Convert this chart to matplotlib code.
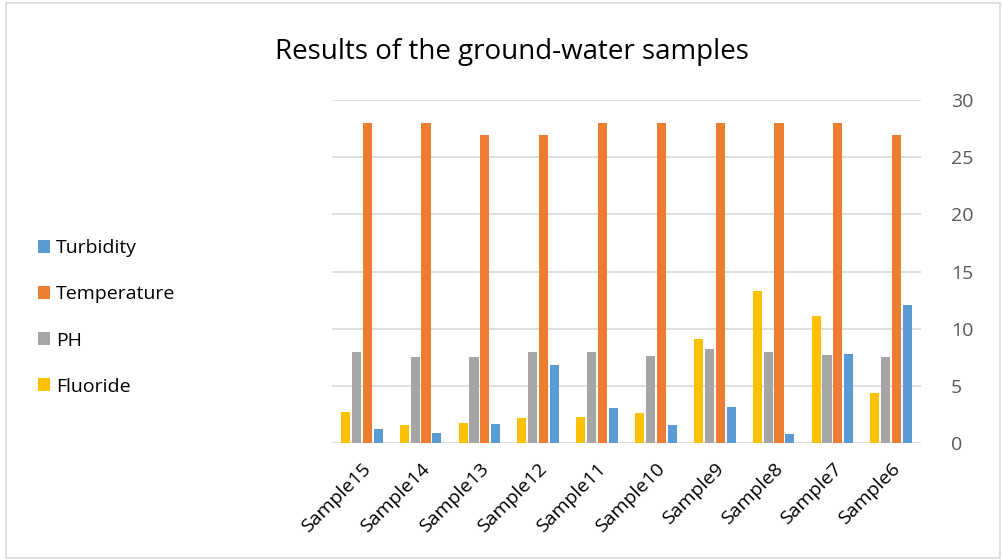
import numpy as np
import matplotlib.pyplot as plt
from matplotlib.patches import Rectangle

samples = ["Sample15", "Sample14", "Sample13", "Sample12", "Sample11",
           "Sample10", "Sample9", "Sample8", "Sample7", "Sample6"]
fluoride = [2.7, 1.6, 1.75, 2.2, 2.25, 2.6, 9.07, 13.28, 11.09, 4.36]
ph = [7.93, 7.52, 7.52, 7.93, 7.93, 7.58, 8.22, 7.96, 7.69, 7.52]
temperature = [28, 28, 27, 27, 28, 28, 28, 28, 28, 27]
turbidity = [1.23, 0.91, 1.7, 6.79, 3.04, 1.61, 3.16, 0.76, 7.78, 12.05]

series = [("Fluoride", fluoride, "#FFC000"),
          ("PH", ph, "#A5A5A5"),
          ("Temperature", temperature, "#ED7D31"),
          ("Turbidity", turbidity, "#5B9BD5")]

plt.rcParams['font.family'] = ['Open Sans', 'DejaVu Sans']

fig = plt.figure(figsize=(10.04, 5.6), dpi=100)
ax = fig.add_axes([0.331, 0.209, 0.586, 0.612])

x = np.arange(len(samples))
step = 0.185
width = 0.155
handles = {}
for i, (name, vals, col) in enumerate(series):
    b = ax.bar(x + (i - 1.5) * step, vals, width, color=col, zorder=3, label=name)
    handles[name] = b

ax.set_xlim(-0.5, len(samples) - 0.5)
ax.set_ylim(0, 30)
ax.set_yticks(range(0, 31, 5))
ax.yaxis.tick_right()
ax.tick_params(axis='y', length=0, labelsize=14, colors='#595959', pad=22)
ax.set_xticks(x)
ax.set_xticklabels(samples, rotation=45, ha='right', rotation_mode='anchor',
                   fontsize=14, color='#000000')
ax.tick_params(axis='x', length=0, pad=12)
ax.grid(axis='y', color='#D9D9D9', linewidth=1.2, zorder=0)
for s in ax.spines.values():
    s.set_visible(False)

fig.text(0.51, 0.907, "Results of the ground-water samples", ha='center', va='center',
         fontsize=20, color='#000000')

order = ["Turbidity", "Temperature", "PH", "Fluoride"]
fig.legend([handles[n] for n in order], order, loc='center left',
           bbox_to_anchor=(0.02, 0.433), frameon=False, fontsize=14,
           handlelength=0.65, handleheight=0.65, handletextpad=0.3, labelspacing=1.45)

fig.patches.append(Rectangle((0.006, 0.004), 0.99, 0.99, transform=fig.transFigure,
                             fill=False, edgecolor='#D9D9D9', linewidth=1.2))

fig.savefig("out.png", dpi=100)
